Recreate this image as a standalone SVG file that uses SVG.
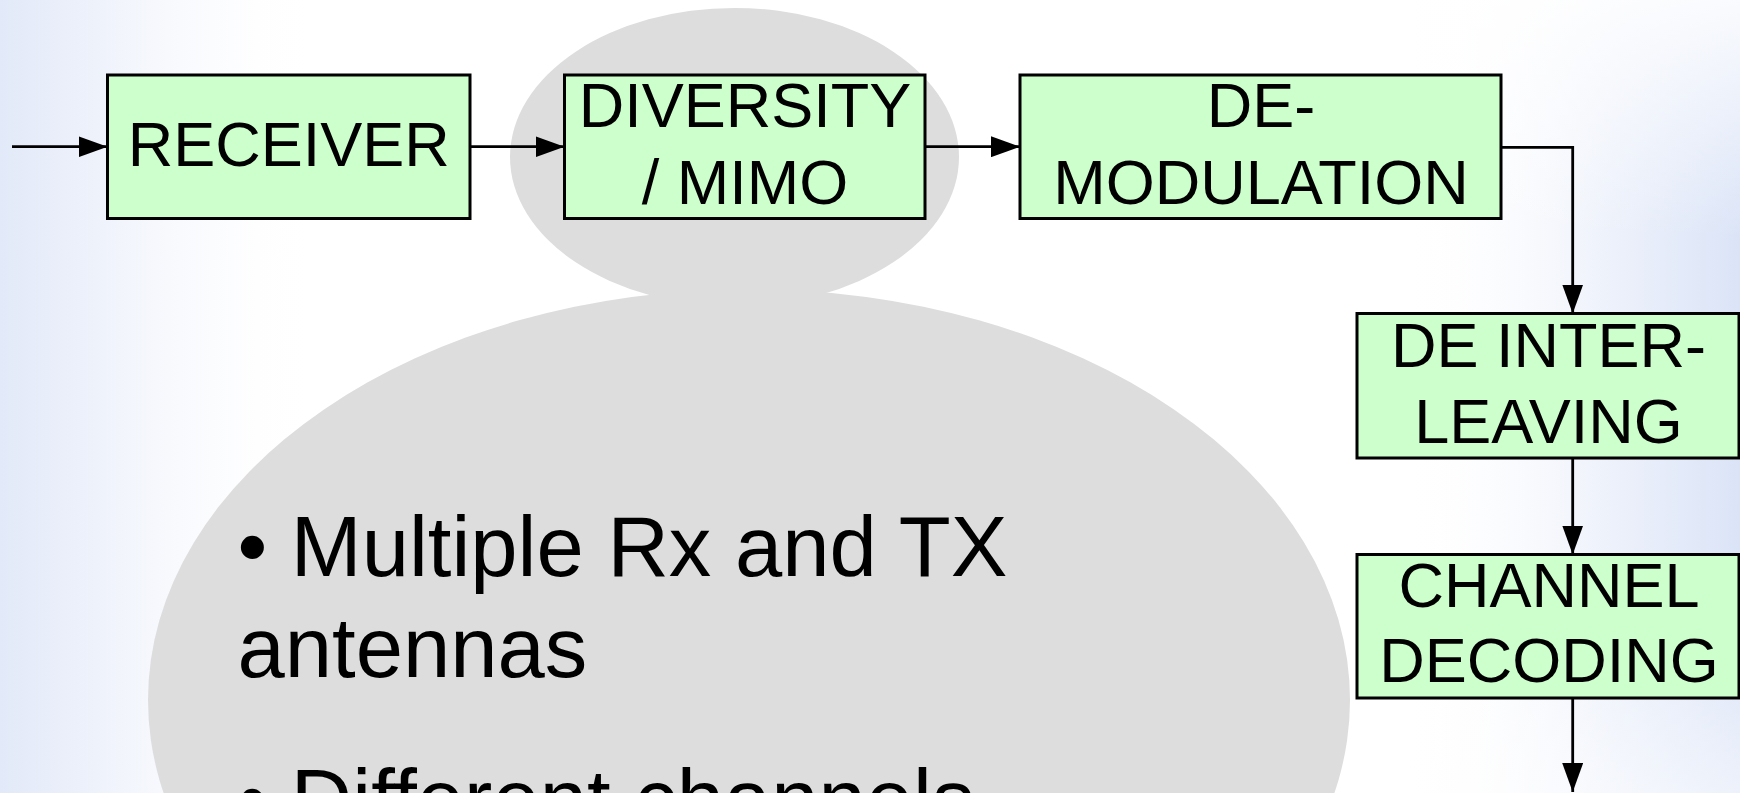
<svg xmlns="http://www.w3.org/2000/svg" width="1740" height="793" viewBox="0 0 1740 793">
  <defs>
    <linearGradient id="bgLeft" x1="0" y1="0" x2="1" y2="0">
      <stop offset="0" stop-color="#e2e9f8"/>
      <stop offset="0.3" stop-color="#eef2fb"/>
      <stop offset="1" stop-color="#ffffff" stop-opacity="0"/>
    </linearGradient>
    <linearGradient id="bgRight" x1="0" y1="0" x2="1" y2="0">
      <stop offset="0" stop-color="#ffffff" stop-opacity="0"/>
      <stop offset="0.6" stop-color="#eef2fb"/>
      <stop offset="1" stop-color="#dbe4f7"/>
    </linearGradient>
    <linearGradient id="fadeV" x1="0" y1="0" x2="0" y2="1">
      <stop offset="0" stop-color="#ffffff" stop-opacity="0.85"/>
      <stop offset="0.3" stop-color="#ffffff" stop-opacity="0"/>
      <stop offset="0.75" stop-color="#ffffff" stop-opacity="0"/>
      <stop offset="1" stop-color="#ffffff" stop-opacity="0.5"/>
    </linearGradient>
    <marker id="arrow" markerUnits="userSpaceOnUse" markerWidth="29" markerHeight="21" refX="29" refY="10.5" orient="auto">
      <path d="M0,0 L29,10.5 L0,21 z" fill="#000"/>
    </marker>
  </defs>
  <style>
    .box { fill: #ccffcc; stroke: #000; stroke-width: 3; }
    .label { font-family: "Liberation Sans", Arial, sans-serif; font-size: 63px; fill: #000; text-anchor: middle; }
    .bullet { font-family: "Liberation Sans", Arial, sans-serif; font-size: 85px; fill: #000; }
    .wire { fill: none; stroke: #000; stroke-width: 2.8; marker-end: url(#arrow); }
    .blob { fill: #dddddd; }
  </style>

  <!-- slide background -->
  <rect x="0" y="0" width="1740" height="793" fill="#ffffff"/>
  <rect x="0" y="0" width="320" height="793" fill="url(#bgLeft)"/>
  <rect x="1400" y="0" width="340" height="793" fill="url(#bgRight)"/>
  <rect x="1400" y="0" width="340" height="793" fill="url(#fadeV)"/>

  <!-- grey highlight shapes behind the chain -->
  <g id="highlight">
    <ellipse class="blob" cx="734.5" cy="157" rx="224.5" ry="149"/>
    <ellipse class="blob" cx="749" cy="700" rx="601" ry="411"/>
    <text class="bullet">
      <tspan x="237.5" y="575.5">• Multiple Rx and TX</tspan>
      <tspan x="237.5" y="676.5">antennas</tspan>
      <tspan x="237.5" y="829">• Different channels</tspan>
    </text>
  </g>

  <!-- connectors -->
  <g id="connectors">
    <path class="wire" d="M12,146.7 H107.5"/>
    <path class="wire" d="M470,146.7 H564.5"/>
    <path class="wire" d="M925,146.7 H1020"/>
    <path class="wire" d="M1501,147.3 H1572.7 V313.5"/>
    <path class="wire" d="M1572.7,458 V554.5"/>
    <path class="wire" d="M1572.7,698 V792"/>
  </g>

  <!-- processing blocks -->
  <g id="receiver">
    <rect class="box" x="107.5" y="75" width="362.5" height="143.5"/>
    <text class="label" x="288.75" y="165.5">RECEIVER</text>
  </g>
  <g id="diversity-mimo">
    <rect class="box" x="564.5" y="75" width="360.5" height="143.5"/>
    <text class="label" x="745" y="126.7">DIVERSITY</text>
    <text class="label" x="745" y="204">/ MIMO</text>
  </g>
  <g id="demodulation">
    <rect class="box" x="1020" y="75" width="481" height="143.5"/>
    <text class="label" x="1261" y="127">DE-</text>
    <text class="label" x="1261" y="204">MODULATION</text>
  </g>
  <g id="deinterleaving">
    <rect class="box" x="1357" y="313.5" width="382" height="144.5"/>
    <text class="label" x="1548.5" y="367">DE INTER-</text>
    <text class="label" x="1548.5" y="443">LEAVING</text>
  </g>
  <g id="channel-decoding">
    <rect class="box" x="1357" y="554.5" width="382" height="143.5"/>
    <text class="label" x="1549" y="606.5">CHANNEL</text>
    <text class="label" x="1549" y="682">DECODING</text>
  </g>
</svg>
